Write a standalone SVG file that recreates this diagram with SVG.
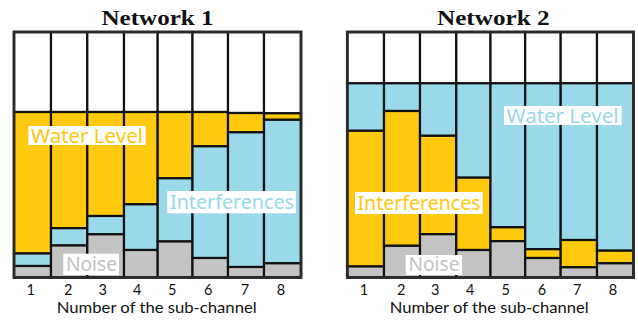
<svg xmlns="http://www.w3.org/2000/svg" width="638" height="320" viewBox="0 0 638 320">
  <style>
    .free { fill: #ffffff; stroke: #111; stroke-width: 2.2; }
    .water { fill: #FFC90E; stroke: #111; stroke-width: 2.2; }
    .intf { fill: #99D9EA; stroke: #111; stroke-width: 2.2; }
    .noise { fill: #C3C3C3; stroke: #111; stroke-width: 2.2; }
    .frame { fill: none; stroke: #2a2a2a; stroke-width: 2.8; }
    .title { font-family: "Liberation Serif", "DejaVu Serif", serif; font-weight: bold; font-size: 22px; fill: #111; text-anchor: middle; }
    .tick { font-family: Lato, "Noto Sans", sans-serif; font-size: 14.5px; fill: #111; text-anchor: middle; }
    .axis { font-family: Lato, "Noto Sans", sans-serif; font-size: 15px; fill: #111; text-anchor: middle; }
    .lbl { font-family: "Noto Sans", "Open Sans", sans-serif; font-size: 19px; }
    .lblbg { fill: #ffffff; }
  </style>

  <!-- Network 1: water level on top of interference and noise -->
  <g id="network1">
    <text class="title" x="157.5" y="25" textLength="112" lengthAdjust="spacingAndGlyphs">Network 1</text>
    <g id="n1-ch1">
      <rect class="free" x="14" y="32" width="37" height="80"/>
      <rect class="water" x="14" y="112" width="37" height="141.5"/>
      <rect class="intf" x="14" y="253.5" width="37" height="12.5"/>
      <rect class="noise" x="14" y="266" width="37" height="11.5"/>
    </g>
    <g id="n1-ch2">
      <rect class="free" x="51" y="32" width="36.3" height="80"/>
      <rect class="water" x="51" y="112" width="36.3" height="116.2"/>
      <rect class="intf" x="51" y="228.2" width="36.3" height="17.3"/>
      <rect class="noise" x="51" y="245.5" width="36.3" height="32"/>
    </g>
    <g id="n1-ch3">
      <rect class="free" x="87.3" y="32" width="36.7" height="80"/>
      <rect class="water" x="87.3" y="112" width="36.7" height="104"/>
      <rect class="intf" x="87.3" y="216" width="36.7" height="18.3"/>
      <rect class="noise" x="87.3" y="234.3" width="36.7" height="43.2"/>
    </g>
    <g id="n1-ch4">
      <rect class="free" x="124" y="32" width="33.7" height="80"/>
      <rect class="water" x="124" y="112" width="33.7" height="92.3"/>
      <rect class="intf" x="124" y="204.3" width="33.7" height="45.7"/>
      <rect class="noise" x="124" y="250" width="33.7" height="27.5"/>
    </g>
    <g id="n1-ch5">
      <rect class="free" x="157.7" y="32" width="34.8" height="80"/>
      <rect class="water" x="157.7" y="112" width="34.8" height="66.3"/>
      <rect class="intf" x="157.7" y="178.3" width="34.8" height="63.2"/>
      <rect class="noise" x="157.7" y="241.5" width="34.8" height="36"/>
    </g>
    <g id="n1-ch6">
      <rect class="free" x="192.5" y="32" width="35.5" height="80"/>
      <rect class="water" x="192.5" y="112" width="35.5" height="34.3"/>
      <rect class="intf" x="192.5" y="146.3" width="35.5" height="111.7"/>
      <rect class="noise" x="192.5" y="258" width="35.5" height="19.5"/>
    </g>
    <g id="n1-ch7">
      <rect class="free" x="228" y="32" width="36" height="81"/>
      <rect class="water" x="228" y="113" width="36" height="19.3"/>
      <rect class="intf" x="228" y="132.3" width="36" height="134.7"/>
      <rect class="noise" x="228" y="267" width="36" height="10.5"/>
    </g>
    <g id="n1-ch8">
      <rect class="free" x="264" y="32" width="37" height="81.3"/>
      <rect class="water" x="264" y="113.3" width="37" height="6.5"/>
      <rect class="intf" x="264" y="119.8" width="37" height="143.5"/>
      <rect class="noise" x="264" y="263.3" width="37" height="14.2"/>
    </g>
    <rect class="frame" x="14" y="32" width="287" height="245.5"/>

    <g id="n1-label-water">
      <rect class="lblbg" x="28.3" y="126" width="117.4" height="19"/>
      <text class="lbl" x="31" y="142.5" fill="#FFC90E" textLength="112" lengthAdjust="spacingAndGlyphs">Water Level</text>
    </g>
    <g id="n1-label-intf">
      <rect class="lblbg" x="167.3" y="191" width="128.7" height="22.3"/>
      <text class="lbl" x="170" y="209" fill="#99D9EA" textLength="124" lengthAdjust="spacingAndGlyphs">Interferences</text>
    </g>
    <g id="n1-label-noise">
      <rect class="lblbg" x="63.3" y="253.7" width="55.7" height="21.3"/>
      <text class="lbl" x="66" y="270.5" fill="#C3C3C3" textLength="51" lengthAdjust="spacingAndGlyphs">Noise</text>
    </g>

    <g id="n1-axis">
      <text class="tick" x="30.7" y="294.5">1</text>
      <text class="tick" x="68.3" y="294.5">2</text>
      <text class="tick" x="102.7" y="294.5">3</text>
      <text class="tick" x="137.3" y="294.5">4</text>
      <text class="tick" x="172.3" y="294.5">5</text>
      <text class="tick" x="208.3" y="294.5">6</text>
      <text class="tick" x="245" y="294.5">7</text>
      <text class="tick" x="281" y="294.5">8</text>
      <text class="axis" x="156.7" y="312.8" textLength="200" lengthAdjust="spacingAndGlyphs">Number of the sub-channel</text>
    </g>
  </g>

  <!-- Network 2: interference and noise under a common water level -->
  <g id="network2">
    <text class="title" x="493.3" y="25" textLength="112.7" lengthAdjust="spacingAndGlyphs">Network 2</text>
    <g id="n2-ch1">
      <rect class="free" x="347.3" y="32" width="36.7" height="51.3"/>
      <rect class="intf" x="347.3" y="83.3" width="36.7" height="47.5"/>
      <rect class="water" x="347.3" y="130.8" width="36.7" height="135.7"/>
      <rect class="noise" x="347.3" y="266.5" width="36.7" height="11"/>
    </g>
    <g id="n2-ch2">
      <rect class="free" x="384" y="32" width="36" height="51.3"/>
      <rect class="intf" x="384" y="83.3" width="36" height="27.7"/>
      <rect class="water" x="384" y="111" width="36" height="134.8"/>
      <rect class="noise" x="384" y="245.8" width="36" height="31.7"/>
    </g>
    <g id="n2-ch3">
      <rect class="free" x="420" y="32" width="36.3" height="51.3"/>
      <rect class="intf" x="420" y="83.3" width="36.3" height="52.5"/>
      <rect class="water" x="420" y="135.8" width="36.3" height="98.4"/>
      <rect class="noise" x="420" y="234.2" width="36.3" height="43.3"/>
    </g>
    <g id="n2-ch4">
      <rect class="free" x="456.3" y="32" width="34.2" height="51.3"/>
      <rect class="intf" x="456.3" y="83.3" width="34.2" height="94.4"/>
      <rect class="water" x="456.3" y="177.7" width="34.2" height="72.3"/>
      <rect class="noise" x="456.3" y="250" width="34.2" height="27.5"/>
    </g>
    <g id="n2-ch5">
      <rect class="free" x="490.5" y="32" width="34.7" height="51.3"/>
      <rect class="intf" x="490.5" y="83.3" width="34.7" height="144"/>
      <rect class="water" x="490.5" y="227.3" width="34.7" height="13.9"/>
      <rect class="noise" x="490.5" y="241.2" width="34.7" height="36.3"/>
    </g>
    <g id="n2-ch6">
      <rect class="free" x="525.2" y="32" width="35.5" height="51.3"/>
      <rect class="intf" x="525.2" y="83.3" width="35.5" height="165.9"/>
      <rect class="water" x="525.2" y="249.2" width="35.5" height="8.8"/>
      <rect class="noise" x="525.2" y="258" width="35.5" height="19.5"/>
    </g>
    <g id="n2-ch7">
      <rect class="free" x="560.7" y="32" width="36.3" height="51.3"/>
      <rect class="intf" x="560.7" y="83.3" width="36.3" height="156.7"/>
      <rect class="water" x="560.7" y="240" width="36.3" height="27.3"/>
      <rect class="noise" x="560.7" y="267.3" width="36.3" height="10.2"/>
    </g>
    <g id="n2-ch8">
      <rect class="free" x="597" y="32" width="36.5" height="51.3"/>
      <rect class="intf" x="597" y="83.3" width="36.5" height="167.4"/>
      <rect class="water" x="597" y="250.7" width="36.5" height="12.6"/>
      <rect class="noise" x="597" y="263.3" width="36.5" height="14.2"/>
    </g>
    <rect class="frame" x="347.3" y="32" width="286.2" height="245.5"/>

    <g id="n2-label-water">
      <rect class="lblbg" x="504" y="106" width="117.7" height="19"/>
      <text class="lbl" x="506.5" y="122.5" fill="#99D9EA" textLength="112" lengthAdjust="spacingAndGlyphs">Water Level</text>
    </g>
    <g id="n2-label-intf">
      <rect class="lblbg" x="355" y="192" width="127.7" height="22"/>
      <text class="lbl" x="357.5" y="209.5" fill="#FFC90E" textLength="123" lengthAdjust="spacingAndGlyphs">Interferences</text>
    </g>
    <g id="n2-label-noise">
      <rect class="lblbg" x="405.7" y="255" width="56.3" height="20"/>
      <text class="lbl" x="408.5" y="271" fill="#C3C3C3" textLength="51" lengthAdjust="spacingAndGlyphs">Noise</text>
    </g>

    <g id="n2-axis">
      <text class="tick" x="364" y="294.5">1</text>
      <text class="tick" x="401.3" y="294.5">2</text>
      <text class="tick" x="435.3" y="294.5">3</text>
      <text class="tick" x="470.3" y="294.5">4</text>
      <text class="tick" x="505.7" y="294.5">5</text>
      <text class="tick" x="542" y="294.5">6</text>
      <text class="tick" x="577.3" y="294.5">7</text>
      <text class="tick" x="613" y="294.5">8</text>
      <text class="axis" x="489.2" y="312.8" textLength="199" lengthAdjust="spacingAndGlyphs">Number of the sub-channel</text>
    </g>
  </g>
</svg>
